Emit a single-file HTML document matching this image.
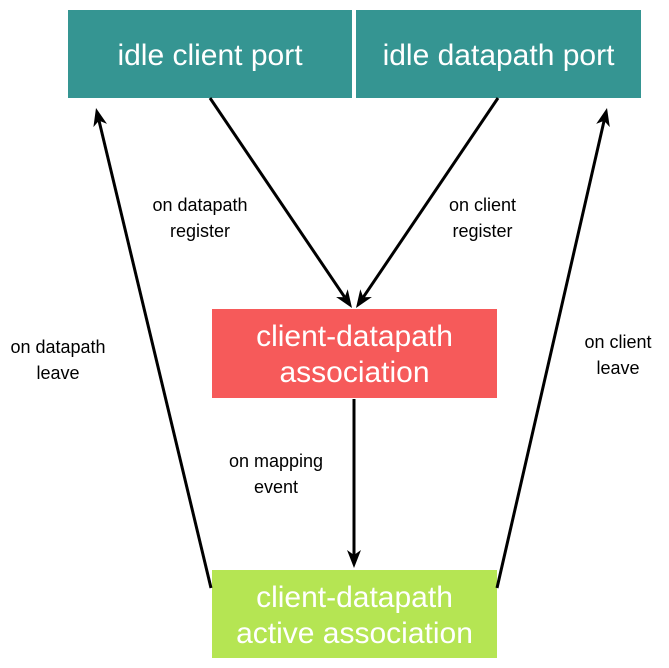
<!DOCTYPE html>
<html><head><style>
body{margin:0;background:#fff;width:669px;height:668px;position:relative;overflow:hidden;font-family:"Liberation Sans",Arial,sans-serif}
.b{position:absolute;color:#fff;display:flex;align-items:center;justify-content:center;text-align:center;font-size:30px;line-height:36px;box-sizing:border-box;padding-top:3px}
.l{position:absolute;font-size:18px;line-height:26px;text-align:center;color:#000}
</style></head><body>
<div class="b" style="left:68px;top:10px;width:284px;height:88px;background:#359592">idle client port</div>
<div class="b" style="left:356px;top:10px;width:285px;height:88px;background:#359592">idle datapath port</div>
<div class="b" style="left:212px;top:309px;width:285px;height:89px;background:#f65a5a">client-datapath<br>association</div>
<div class="b" style="left:212px;top:570px;width:285px;height:88px;background:#b5e553">client-datapath<br>active association</div>
<svg width="669" height="668" style="position:absolute;left:0;top:0">
<g stroke="#000" stroke-width="3" fill="none">
<line x1="210" y1="98" x2="344.7" y2="297.2"/>
<line x1="498" y1="98" x2="363.3" y2="297.2"/>
<line x1="354" y1="399" x2="354" y2="555"/>
<line x1="211" y1="588" x2="99" y2="120.6"/>
<line x1="497" y1="588" x2="604.1" y2="120.7"/>
</g>
<g fill="#000">
<polygon points="352,308 336.1,297 344.7,297.2 347.7,289.2"/>
<polygon points="356,308 371.9,297 363.3,297.2 360.3,289.2"/>
<polygon points="354,568 347,550 354,555 361,550"/>
<polygon points="96,108 107,123.9 99,120.6 93.4,127.1"/>
<polygon points="607,108 609.8,127.1 604.1,120.7 596.2,123.9"/>
</g></svg>
<div class="l" style="left:140px;top:192px;width:120px">on datapath<br>register</div>
<div class="l" style="left:425px;top:192px;width:115px">on client<br>register</div>
<div class="l" style="left:0px;top:334px;width:116px">on datapath<br>leave</div>
<div class="l" style="left:560px;top:329px;width:116px">on client<br>leave</div>
<div class="l" style="left:216px;top:448px;width:120px">on mapping<br>event</div>
</body></html>
